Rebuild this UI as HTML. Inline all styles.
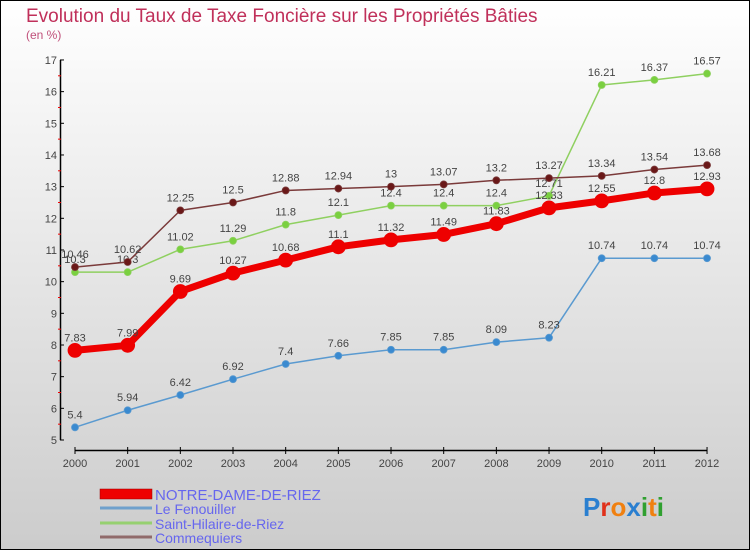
<!DOCTYPE html>
<html><head><meta charset="utf-8"><style>
html,body{margin:0;padding:0}
body{width:750px;height:550px;overflow:hidden}
svg{display:block;font-family:"Liberation Sans",sans-serif}
</style></head><body>
<svg id="c" width="750" height="550">
<defs><linearGradient id="bg" x1="0" y1="0" x2="0" y2="1"><stop offset="0" stop-color="#ffffff"/><stop offset="1" stop-color="#cccccc"/></linearGradient></defs>
<rect x="0.5" y="0.5" width="749" height="549" fill="url(#bg)" stroke="#000"/>
<text x="26" y="22" font-size="19" fill="#c0305a">Evolution du Taux de Taxe Foncière sur les Propriétés Bâties</text>
<text x="26" y="39" font-size="12" fill="#c0507a">(en %)</text>
<g id="axes"></g><g id="series"></g>
<g>
<rect x="100" y="489" width="52" height="10" fill="#e00" stroke="#900" stroke-width="0.5"/>
<text x="155" y="500" font-size="15" fill="#6666ee">NOTRE-DAME-DE-RIEZ</text>
<line x1="100" y1="508" x2="152" y2="508" stroke="#6ea0cc" stroke-width="3"/>
<text x="155" y="514" font-size="14" fill="#6666ee">Le Fenouiller</text>
<line x1="100" y1="523" x2="152" y2="523" stroke="#96d070" stroke-width="3"/>
<text x="155" y="529" font-size="14" fill="#6666ee">Saint-Hilaire-de-Riez</text>
<line x1="100" y1="537" x2="152" y2="537" stroke="#906a6a" stroke-width="3"/>
<text x="155" y="543" font-size="14" fill="#6666ee">Commequiers</text>
</g>
<text x="583" y="516" font-size="26" font-weight="bold"><tspan fill="#2a7fd0">P</tspan><tspan fill="#e0301a">r</tspan><tspan fill="#f08010">o</tspan><tspan fill="#2a7fd0">x</tspan><tspan fill="#30a030">i</tspan><tspan fill="#f08010">t</tspan><tspan fill="#30a030">i</tspan></text>
</svg>
<script>
const years=[2000,2001,2002,2003,2004,2005,2006,2007,2008,2009,2010,2011,2012];
const notreDame=[7.83,7.99,9.69,10.27,10.68,11.1,11.32,11.49,11.83,12.33,12.55,12.8,12.93];
const fenouiller=[5.4,5.94,6.42,6.92,7.4,7.66,7.85,7.85,8.09,8.23,10.74,10.74,10.74];
const saintHilaire=[10.3,10.3,11.02,11.29,11.8,12.1,12.4,12.4,12.4,12.71,16.21,16.37,16.57];
const commequiers=[10.46,10.62,12.25,12.5,12.88,12.94,13,13.07,13.2,13.27,13.34,13.54,13.68];
const yTicks=[5,6,7,8,9,10,11,12,13,14,15,16,17];
const NS="http://www.w3.org/2000/svg";
function X(i){return 75+i*52.67;}
function Y(v){return 440-(v-5)*31.67;}
function mk(t,a,p){const e=document.createElementNS(NS,t);for(const k in a)e.setAttribute(k,a[k]);p.appendChild(e);return e;}
const ax=document.getElementById('axes');
let l=mk('line',{x1:60.5,y1:Y(17),x2:60.5,y2:Y(5),stroke:'#000','stroke-width':1.5},ax);


l=mk('line',{x1:X(0),y1:450.5,x2:X(12),y2:450.5,stroke:'#000','stroke-width':1.5},ax);


yTicks.forEach(v=>{
 mk('line',{x1:60,y1:Y(v),x2:64,y2:Y(v),stroke:'#000'},ax);
 if(v<17)mk('line',{x1:58,y1:Y(v+0.5),x2:61,y2:Y(v+0.5),stroke:'#e00'},ax);
 const t=mk('text',{x:57,y:Y(v)+4,'text-anchor':'end','font-size':11,fill:'#444'},ax);
 t.textContent=v;
 
 
});
years.forEach((y,i)=>{
 mk('line',{x1:X(i),y1:447,x2:X(i),y2:454,stroke:'#000'},ax);
 const t=mk('text',{x:X(i),y:467,'text-anchor':'middle','font-size':11,fill:'#444'},ax);
 t.textContent=y;
 
 
});
const sg=document.getElementById('series');
function series(vals,name,col,dot,w,r){
 const g=mk('g',{},sg);
 
 
 mk('polyline',{points:vals.map((v,i)=>X(i)+','+Y(v)).join(' '),fill:'none',stroke:col,'stroke-width':w,'stroke-linejoin':'round'},g);
 vals.forEach((v,i)=>{
  const c=mk('circle',{cx:X(i),cy:Y(v),r:r,fill:dot,stroke:col,'stroke-width':0.8},g);
  
  
  const t=mk('text',{x:X(i),y:Y(v)-9,'text-anchor':'middle','font-size':11,fill:'#444'},g);
  t.textContent=v;
  
  
 });
}
series(fenouiller,'series-le-fenouiller','#5a9ad0','#3a8ad0',1.5,3.5);
series(saintHilaire,'series-saint-hilaire-de-riez','#8fd060','#7ad040',1.5,3.5);
series(commequiers,'series-commequiers','#7a3a3a','#6a1818',1.5,3.5);
series(notreDame,'series-notre-dame-de-riez','#ee0000','#ee0000',7,7);
</script>
</body></html>
